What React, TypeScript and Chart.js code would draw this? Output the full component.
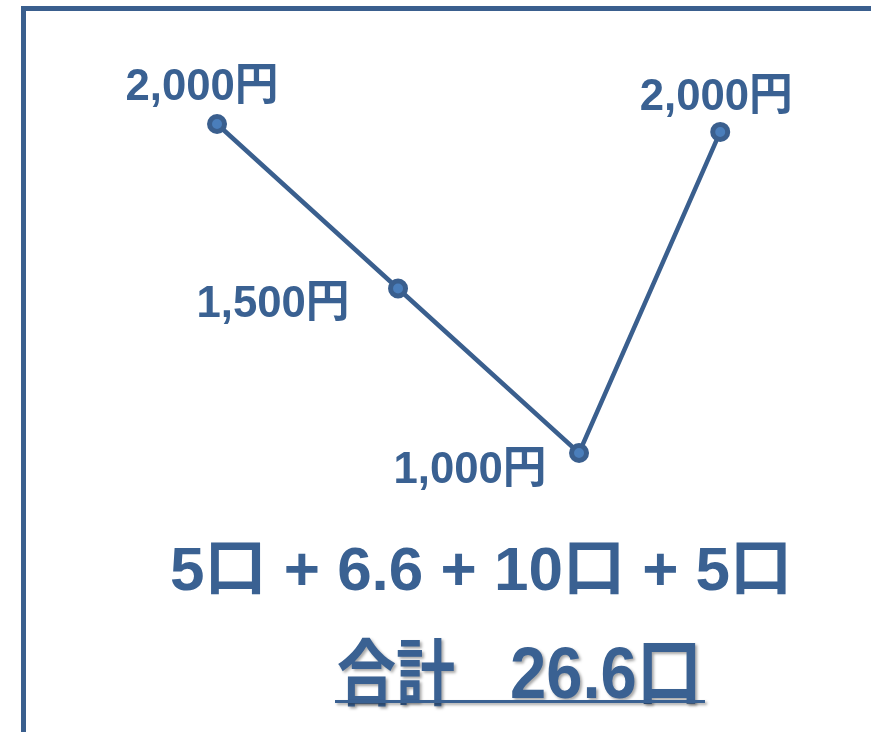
import React, { useEffect, useRef } from "react";
import { Chart, registerables } from "chart.js";

Chart.register(...registerables);

// ---- data ----
const xSteps = [0, 1, 2, 2.78];
const prices = [2000, 1500, 1000, 1976];
const priceLabels = ["2,000円", "1,500円", "1,000円", "2,000円"];
const sumLine = "5口 + 6.6 + 10口 + 5口";
const totalWord = "合計";
const totalValue = "26.6口";

// ---- styles ----
const LINE = "#3a5f8e";
const POINT_FILL = "#4a7ebb";
const TEXT = "#3a6192";
const FONT = "'Liberation Sans', 'Noto Sans CJK JP', sans-serif";
const LABEL_OFFSETS: [number, number][] = [
  [-15, -24],
  [-125, 28],
  [-109, 30],
  [-4, -22],
];

const textPlugin = {
  id: "texts",
  afterDatasetsDraw(chart: any) {
    const ctx = chart.ctx as CanvasRenderingContext2D;
    const meta = chart.getDatasetMeta(0);
    ctx.save();
    ctx.fillStyle = TEXT;
    ctx.textBaseline = "alphabetic";
    ctx.font = `bold 45px ${FONT}`;
    ctx.textAlign = "center";
    meta.data.forEach((pt: any, i: number) => {
      const [dx, dy] = LABEL_OFFSETS[i];
      ctx.fillText(priceLabels[i], pt.x + dx, pt.y + dy, 153);
    });

    ctx.textAlign = "left";
    ctx.font = `bold 62px ${FONT}`;
    ctx.fillText(sumLine, 170, 590, 632);

    ctx.save();
    ctx.shadowColor = "rgba(0,0,0,0.35)";
    ctx.shadowOffsetX = 2;
    ctx.shadowOffsetY = 2;
    ctx.shadowBlur = 3;
    ctx.font = `bold 72px ${FONT}`;
    ctx.fillText(totalWord, 337, 699, 118);
    ctx.font = `bold 73px ${FONT}`;
    ctx.fillText(totalValue, 510, 698, 192);
    ctx.fillRect(335, 700, 370, 3);
    ctx.restore();

    ctx.restore();
  },
};

export default function App() {
  const ref = useRef<HTMLCanvasElement | null>(null);

  useEffect(() => {
    document.body.style.margin = "0";
    if (!ref.current) return;
    const chart = new Chart(ref.current, {
      type: "line",
      data: {
        datasets: [
          {
            data: xSteps.map((x, i) => ({ x, y: prices[i] })),
            borderColor: LINE,
            borderWidth: 4.5,
            backgroundColor: POINT_FILL,
            pointBackgroundColor: POINT_FILL,
            pointBorderColor: LINE,
            pointBorderWidth: 5,
            pointRadius: 7.5,
            tension: 0,
            fill: false,
            clip: false,
          },
        ],
      },
      options: {
        animation: false,
        responsive: false,
        devicePixelRatio: 1,
        layout: { padding: 0, autoPadding: false },
        events: [],
        scales: {
          x: { type: "linear", min: -1.199, max: 3.613, display: false },
          y: { min: 152, max: 2377, display: false },
        },
        plugins: {
          legend: { display: false },
          tooltip: { enabled: false },
        },
      },
      plugins: [textPlugin],
    });
    return () => chart.destroy();
  }, []);

  return (
    <div
      style={{
        position: "fixed",
        left: 0,
        top: 0,
        width: 871,
        height: 732,
        background: "#fff",
        overflow: "hidden",
      }}
    >
      <div
        style={{
          position: "absolute",
          left: 21,
          top: 6,
          width: 900,
          height: 800,
          borderTop: `5px solid ${LINE}`,
          borderLeft: `5px solid ${LINE}`,
        }}
      />
      <canvas
        ref={ref}
        width={871}
        height={732}
        style={{ position: "absolute", left: 0, top: 0 }}
      />
    </div>
  );
}
